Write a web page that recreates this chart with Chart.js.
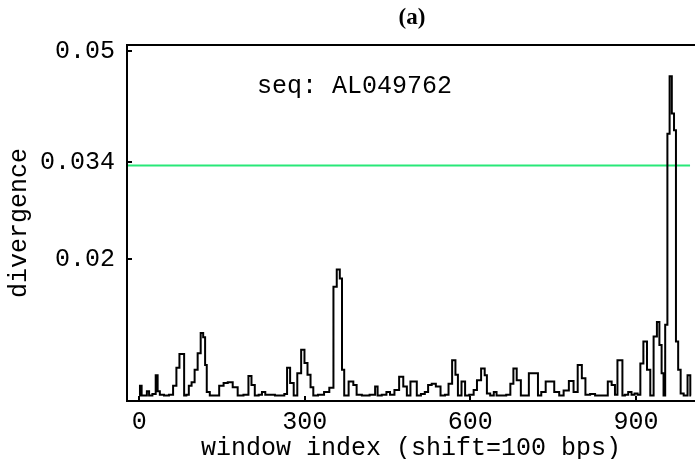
<!DOCTYPE html>
<html><head><meta charset="utf-8">
<script src="https://cdn.jsdelivr.net/npm/chart.js@4"></script>
<style>html,body{margin:0;padding:0;background:#fff}</style>
</head><body>
<canvas id="c" width="695" height="459"></canvas>
<script>
const windowIndex = [0,3,6,12,16,20,28,32,35,40,50,58,65,70,76,80,83,88,92,98,103,109,114,118,121,124,132,140,150,156,165,174,183,195,201,206,213,220,225,232,260,266,270,277,283,290,297,302,308,313,318,330,340,349,355,361,366,369,374,385,391,397,410,425,430,434,445,451,458,467,475,482,488,495,500,506,515,520,527,533,542,550,558,563,571,575,580,588,593,603,609,615,624,628,632,640,645,650,660,670,675,681,687,696,704,708,720,725,732,741,747,757,765,773,784,790,799,805,812,822,830,845,853,859,865,868,874,877,883,889,895,900,906,910,917,923,929,935,941,944,949,951,955,959,963,967,971,974,979,983,990,997,1000];
const divergence = [0.0003,0.0017,0.0003,0.0003,0.0009,0.0003,0.0005,0.0032,0.0009,0.0004,0.0003,0.0004,0.0017,0.0043,0.0063,0.0063,0.0003,0.0004,0.0017,0.0022,0.004,0.0064,0.0093,0.0087,0.0047,0.0008,0.0003,0.0003,0.0017,0.0021,0.0022,0.0015,0.0003,0.0004,0.0031,0.0018,0.0003,0.0004,0.0008,0.0004,0.0003,0.0005,0.0043,0.0021,0.0003,0.0035,0.0069,0.005,0.0033,0.0015,0.0003,0.0004,0.0008,0.0014,0.016,0.0185,0.0172,0.004,0.0003,0.0023,0.0018,0.0004,0.0003,0.0004,0.0016,0.0003,0.0004,0.0008,0.0004,0.0011,0.003,0.0016,0.0003,0.0023,0.0023,0.0003,0.0005,0.0008,0.0018,0.002,0.0016,0.0003,0.0004,0.002,0.0054,0.0033,0.0003,0.0023,0.0003,0.0004,0.0011,0.0025,0.0042,0.0032,0.0006,0.0003,0.0008,0.0003,0.0003,0.0004,0.002,0.0042,0.0025,0.0003,0.0003,0.0035,0.0035,0.0003,0.0008,0.0023,0.0023,0.0008,0.0003,0.001,0.0024,0.0008,0.0047,0.0028,0.0004,0.0005,0.0003,0.0003,0.0023,0.0018,0.0004,0.0054,0.0054,0.0003,0.0004,0.0008,0.0004,0.0006,0.0004,0.0049,0.0081,0.004,0.0003,0.0088,0.0109,0.0076,0.0035,0.0003,0.0105,0.0381,0.0464,0.041,0.0386,0.0081,0.004,0.0006,0.0003,0.0032,0.0003];
const xTicks = [0, 300, 600, 900];
const yTicks = [0.02, 0.034, 0.05];
const threshold = 0.0335;
const thresholdRange = [-22, 998];
const seqLabel = 'seq: AL049762';
const panelTitle = '(a)';
const xTitle = 'window index (shift=100 bps)';
const yTitle = 'divergence';

const MONO = '"Liberation Mono", "Courier New", monospace';
const monoFont = {family: MONO, size: 25, lineHeight: 1.2};

const framePlugin = {
  id: 'frame',
  afterDraw(chart) {
    const {ctx, chartArea: a, scales: {x, y}} = chart;
    ctx.save();
    ctx.strokeStyle = '#000';
    ctx.lineWidth = 2;
    ctx.beginPath();
    ctx.moveTo(695, a.top); ctx.lineTo(a.left, a.top); ctx.lineTo(a.left, a.bottom); ctx.lineTo(695, a.bottom);
    ctx.stroke();
    ctx.beginPath();
    yTicks.forEach(v => { const p = Math.round(y.getPixelForValue(v)); ctx.moveTo(a.left, p); ctx.lineTo(a.left + 5, p); });
    xTicks.forEach(v => { const p = Math.round(x.getPixelForValue(v)); ctx.moveTo(p, a.bottom); ctx.lineTo(p, a.bottom - 5); });
    ctx.stroke();
    ctx.fillStyle = '#000';
    ctx.font = '25px ' + MONO;
    ctx.textAlign = 'left';
    ctx.textBaseline = 'middle';
    ctx.fillText(seqLabel, 257, 86);
    ctx.font = 'bold 23px "Liberation Serif", serif';
    ctx.textAlign = 'center';
    ctx.fillText(panelTitle, 412, 18);
    ctx.restore();
  }
};

new Chart(document.getElementById('c'), {
  type: 'line',
  data: {
    datasets: [
      {data: windowIndex.map((v, i) => ({x: v, y: divergence[i]})), borderColor: '#000', borderWidth: 2, pointRadius: 0, tension: 0, stepped: 'middle'},
      {data: thresholdRange.map(v => ({x: v, y: threshold})), borderColor: '#28e878', borderWidth: 2, pointRadius: 0}
    ]
  },
  options: {
    responsive: false,
    animation: false,
    events: [],
    layout: {padding: {top: 45, left: 0, right: 0, bottom: 0}},
    plugins: {legend: {display: false}, tooltip: {enabled: false}, title: {display: false}},
    scales: {
      x: {
        type: 'linear', min: -22, max: 1007,
        afterBuildTicks: s => { s.ticks = xTicks.map(v => ({value: v})); },
        afterFit: s => { s.height = 58; },
        ticks: {font: monoFont, color: '#000', padding: 6, maxRotation: 0, autoSkip: false, callback: v => String(v)},
        grid: {display: false, drawTicks: false},
        border: {display: false},
        title: {display: true, text: xTitle, color: '#000', font: {family: MONO, size: 25, lineHeight: 0.85}, padding: 0}
      },
      y: {
        type: 'linear', min: -0.0005, max: 0.0509,
        afterBuildTicks: s => { s.ticks = yTicks.map(v => ({value: v})); },
        afterFit: s => { s.width = 127; },
        ticks: {font: monoFont, color: '#000', padding: 12, autoSkip: false, callback: v => String(v)},
        grid: {display: false, drawTicks: false},
        border: {display: false},
        title: {display: true, text: yTitle, color: '#000', font: {family: MONO, size: 25, lineHeight: 1}, padding: {top: 7, bottom: 0}}
      }
    }
  },
  plugins: [framePlugin]
});
</script>
</body></html>
